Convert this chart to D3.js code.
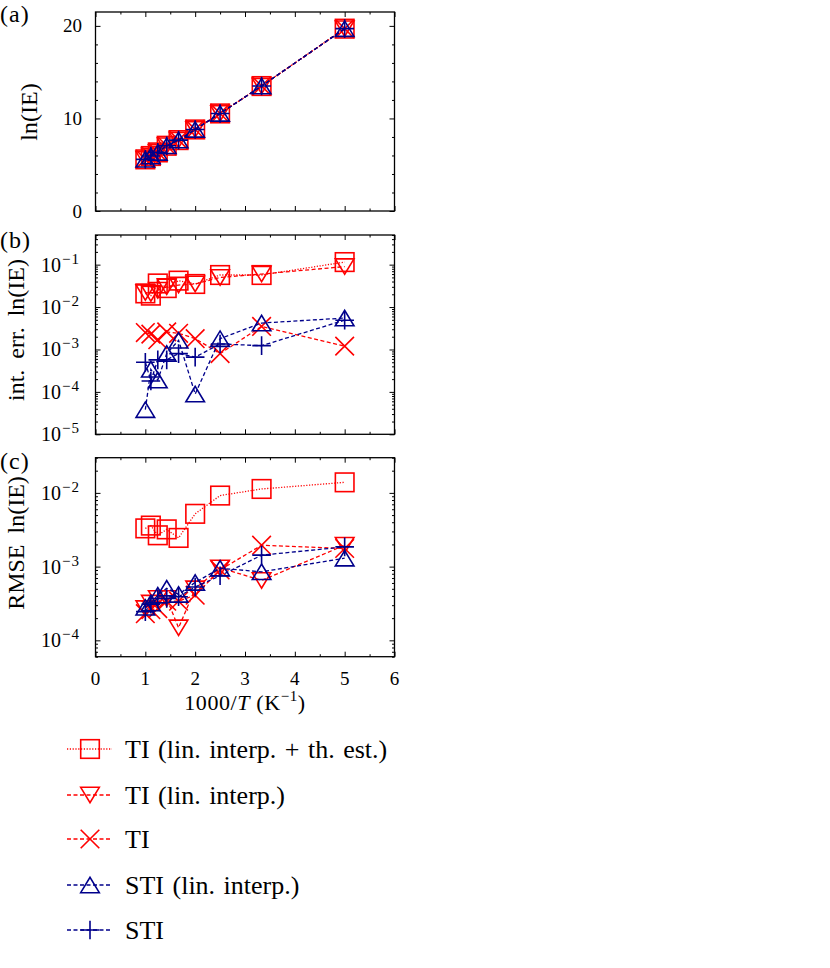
<!DOCTYPE html>
<html><head><meta charset="utf-8">
<script src="https://cdn.jsdelivr.net/npm/d3@7"></script>
<style>
body{margin:0;background:#fff}
svg{display:block}
text{font-family:"Liberation Serif","DejaVu Serif",serif;fill:#000}
</style>
</head><body>
<svg id="chart" width="830" height="968"></svg>
<script>
// ---------------- data ----------------
const xVals = [1.0, 1.111, 1.25, 1.429, 1.667, 2.0, 2.5, 3.333, 5.0];
const xTicks = [0, 1, 2, 3, 4, 5, 6];
const seriesNames = ["TI (lin. interp. + th. est.)", "TI (lin. interp.)", "TI", "STI (lin. interp.)", "STI"];

// (a) ln(IE)
const lnIE_TIthest = [5.58, 5.94, 6.33, 7.05, 7.66, 8.81, 10.54, 13.5, 19.7];
const lnIE_TIlin   = [5.58, 5.94, 6.33, 7.05, 7.66, 8.81, 10.54, 13.5, 19.7];
const lnIE_TI      = [5.58, 5.94, 6.33, 7.05, 7.66, 8.81, 10.54, 13.5, 19.7];
const lnIE_STIlin  = [5.58, 5.94, 6.33, 7.05, 7.66, 8.81, 10.54, 13.5, 19.7];
const lnIE_STI     = [5.58, 5.94, 6.33, 7.05, 7.66, 8.81, 10.54, 13.5, 19.7];
const yTicksA = [0, 10, 20];

// (b) int. err. ln(IE)
const err_TIthest = [0.021, 0.0186, 0.036, 0.028, 0.042, 0.035, 0.057, 0.057, 0.115];
const err_TIlin   = [0.022, 0.021, 0.025, 0.030, 0.033, 0.035, 0.050, 0.060, 0.090];
const err_TI      = [0.0025, 0.0023, 0.0017, 0.0026, 0.0024, 0.0018, 0.0008, 0.0035, 0.0012];
const err_STIlin  = [3.8e-5, 3.4e-4, 1.9e-4, 8.0e-4, 1.65e-3, 8.9e-5, 1.8e-3, 4.2e-3, 5.5e-3];
const err_STI     = [5.0e-4, 1.8e-4, 5.7e-4, 5.7e-4, 8.0e-4, 6.6e-4, 1.35e-3, 1.23e-3, 4.9e-3];
const yTicksB = [-5, -4, -3, -2, -1];   // exponents

// (c) RMSE ln(IE)
const rmse_TIthest = [3.3e-3, 3.6e-3, 2.66e-3, 3.2e-3, 2.45e-3, 5.2e-3, 9.2e-3, 1.13e-2, 1.39e-2];
const rmse_TIlin   = [2.7e-4, 3.2e-4, 3.7e-4, 3.7e-4, 1.48e-4, 5.0e-4, 9.6e-4, 6.5e-4, 1.95e-3];
const rmse_TI      = [2.3e-4, 2.6e-4, 2.7e-4, 3.4e-4, 3.4e-4, 4.1e-4, 9.0e-4, 1.95e-3, 1.76e-3];
const rmse_STIlin  = [2.8e-4, 3.2e-4, 4.1e-4, 5.1e-4, 4.2e-4, 6.1e-4, 9.5e-4, 8.5e-4, 1.3e-3];
const rmse_STI     = [2.45e-4, 3.1e-4, 3.7e-4, 3.7e-4, 3.9e-4, 5.3e-4, 7.5e-4, 1.43e-3, 1.85e-3];
const yTicksC = [-4, -3, -2];

// ---------------- styles ----------------
const RED = "#ff0000", BLUE = "#00008b";
const styles = [
  {color: RED,  dash: "1.2,1.6", marker: "square"},
  {color: RED,  dash: "4,2.5",   marker: "tridown"},
  {color: RED,  dash: "4,2.5",   marker: "cross"},
  {color: BLUE, dash: "4,2.5",   marker: "triup"},
  {color: BLUE, dash: "4,2.5",   marker: "plus"}
];

const svg = d3.select("#chart");
const X0 = 95.5, X1 = 394.5;
const x = d3.scaleLinear().domain([0, 6]).range([X0, X1]);

function drawMarker(g, type, cx, cy, color) {
  const s = 9.3, t = 7.7;
  let el;
  if (type === "square") {
    el = g.append("rect").attr("x", cx - s).attr("y", cy - s).attr("width", 2 * s).attr("height", 2 * s);
  } else if (type === "tridown") {
    el = g.append("path").attr("d", `M${cx - s},${cy - t}L${cx + s},${cy - t}L${cx},${cy + t}Z`);
  } else if (type === "triup") {
    el = g.append("path").attr("d", `M${cx - s},${cy + t}L${cx + s},${cy + t}L${cx},${cy - t}Z`);
  } else if (type === "cross") {
    el = g.append("path").attr("d", `M${cx - s},${cy - s}L${cx + s},${cy + s}M${cx - s},${cy + s}L${cx + s},${cy - s}`);
  } else {
    el = g.append("path").attr("d", `M${cx - s},${cy}L${cx + s},${cy}M${cx},${cy - s}L${cx},${cy + s}`);
  }
  el.attr("stroke", color).attr("stroke-width", 1.6).attr("fill", "none");
}

const panels = [
  {label: "(a)", labelY: 22, top: 12, bottom: 211, log: false, domain: [0, 21.5],
   data: [lnIE_TIthest, lnIE_TIlin, lnIE_TI, lnIE_STIlin, lnIE_STI],
   ylabel: "ln(IE)", ylabX: 37, ylabY: 112, xlabels: false},
  {label: "(b)", labelY: 248, top: 235, bottom: 434.3, log: true, domain: [1e-5, 0.5],
   data: [err_TIthest, err_TIlin, err_TI, err_STIlin, err_STI], exps: yTicksB,
   ylabel: "int. err. ln(IE)", ylabX: 24, ylabY: 330, xlabels: false},
  {label: "(c)", labelY: 469, top: 457.7, bottom: 656.7, log: true, domain: [6e-5, 0.03],
   data: [rmse_TIthest, rmse_TIlin, rmse_TI, rmse_STIlin, rmse_STI], exps: yTicksC,
   ylabel: "RMSE ln(IE)", ylabX: 24, ylabY: 543, xlabels: true}
];

panels.forEach(p => {
  const y = p.log ? d3.scaleLog().domain(p.domain).range([p.bottom, p.top])
                  : d3.scaleLinear().domain(p.domain).range([p.bottom, p.top]);
  const g = svg.append("g");

  // x ticks (inward, top and bottom)
  const xMinor = d3.range(0.5, 6, 1);
  const axB = d3.axisBottom(x).tickValues(xTicks).tickSize(-5).tickFormat("");
  const axBm = d3.axisBottom(x).tickValues(xMinor).tickSize(-2.5).tickFormat("");
  const axT = d3.axisTop(x).tickValues(xTicks).tickSize(-5).tickFormat("");
  const axTm = d3.axisTop(x).tickValues(xMinor).tickSize(-2.5).tickFormat("");
  [[axB, p.bottom], [axBm, p.bottom], [axT, p.top], [axTm, p.top]].forEach(([ax, yy]) => {
    const a = g.append("g").attr("transform", `translate(0,${yy})`).call(ax);
    a.select(".domain").remove();
    a.selectAll("line").attr("stroke", "#000").attr("stroke-width", 1);
  });

  // y ticks
  let yMajor, yMinor;
  if (p.log) {
    yMajor = p.exps.map(e => Math.pow(10, e));
    yMinor = [];
    for (let e = -6; e <= 0; e++) for (let k = 2; k <= 9; k++) {
      const v = k * Math.pow(10, e);
      if (v >= p.domain[0] && v <= p.domain[1]) yMinor.push(v);
    }
  } else {
    yMajor = yTicksA;
    yMinor = d3.range(0, 21.5, 2).filter(v => v % 10 !== 0);
  }
  const axL = d3.axisLeft(y).tickValues(yMajor).tickSize(-5).tickFormat("");
  const axLm = d3.axisLeft(y).tickValues(yMinor).tickSize(-2.5).tickFormat("");
  const axR = d3.axisRight(y).tickValues(yMajor).tickSize(-5).tickFormat("");
  const axRm = d3.axisRight(y).tickValues(yMinor).tickSize(-2.5).tickFormat("");
  [[axL, X0], [axLm, X0], [axR, X1], [axRm, X1]].forEach(([ax, xx]) => {
    const a = g.append("g").attr("transform", `translate(${xx},0)`).call(ax);
    a.select(".domain").remove();
    a.selectAll("line").attr("stroke", "#000").attr("stroke-width", 1);
  });

  // y tick labels
  if (p.log) {
    p.exps.forEach(e => {
      const t = g.append("text").attr("x", 80).attr("y", y(Math.pow(10, e)) + 7)
        .attr("text-anchor", "end").style("font-size", "20px");
      t.append("tspan").text("10");
      t.append("tspan").attr("dy", -8).attr("dx", 1).style("font-size", "15px")
        .style("letter-spacing", "1px").text("\u2212" + Math.abs(e));
    });
  } else {
    yTicksA.forEach(v => {
      g.append("text").attr("x", 82).attr("y", y(v) + 6.5)
        .attr("text-anchor", "end").style("font-size", "19px").text(v);
    });
  }

  // frame
  g.append("rect").attr("x", X0).attr("y", p.top).attr("width", X1 - X0).attr("height", p.bottom - p.top)
    .attr("fill", "none").attr("stroke", "#000").attr("stroke-width", 1.3);

  // series
  p.data.forEach((vals, i) => {
    const st = styles[i];
    const pts = xVals.map((xv, j) => [x(xv), y(vals[j])]);
    g.append("path").attr("d", d3.line()(pts)).attr("fill", "none")
      .attr("stroke", st.color).attr("stroke-width", 1.3).attr("stroke-dasharray", st.dash);
    const mg = g.append("g");
    pts.forEach(([px, py]) => drawMarker(mg, st.marker, px, py, st.color));
  });

  // panel label
  svg.append("text").attr("x", 0).attr("y", p.labelY).style("font-size", "24px")
    .style("letter-spacing", "1px").text(p.label);
  // y label
  svg.append("text").attr("transform", `translate(${p.ylabX},${p.ylabY}) rotate(-90)`)
    .attr("text-anchor", "middle").style("font-size", "24px").style("word-spacing", "5px")
    .text(p.ylabel);

  if (p.xlabels) {
    xTicks.forEach(v => {
      g.append("text").attr("x", x(v)).attr("y", 685).attr("text-anchor", "middle")
        .style("font-size", "19px").text(v);
    });
    const xl = svg.append("text").attr("x", (X0 + X1) / 2).attr("y", 710)
      .attr("text-anchor", "middle").style("font-size", "22px").style("letter-spacing", "0.6px");
    xl.append("tspan").text("1000/");
    xl.append("tspan").style("font-style", "italic").text("T");
    xl.append("tspan").text(" (K");
    xl.append("tspan").attr("dy", -9).style("font-size", "15px").text("\u22121");
    xl.append("tspan").attr("dy", 9).text(")");
  }
});

// legend
const legY = [749, 795, 839, 885, 930];
seriesNames.forEach((name, i) => {
  const st = styles[i];
  const cy = legY[i];
  const g = svg.append("g");
  g.append("line").attr("x1", 67).attr("x2", 112).attr("y1", cy).attr("y2", cy)
    .attr("stroke", st.color).attr("stroke-width", 1.3).attr("stroke-dasharray", st.dash);
  drawMarker(g, st.marker, 90, cy, st.color);
  g.append("text").attr("x", 125).attr("y", cy + 8.5).style("font-size", "26px")
    .style("word-spacing", "2px").text(name);
});
</script>
</body></html>
